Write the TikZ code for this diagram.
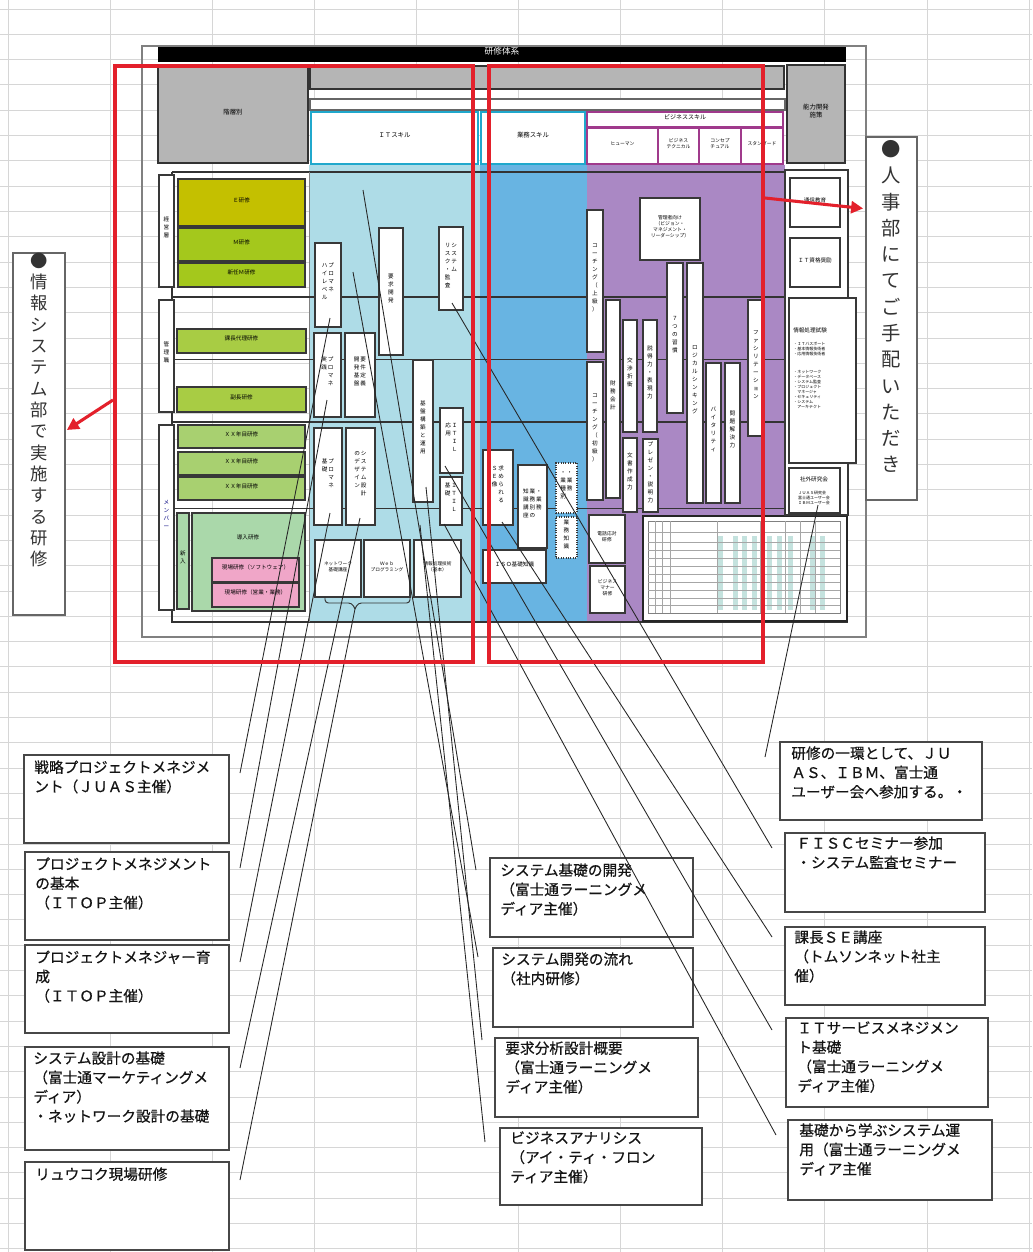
\documentclass[tikz,border=0pt]{standalone}
\usepackage{fontspec}
\setmainfont{Noto Sans CJK JP}
\newfontfamily\cfont{Noto Sans CJK JP}[FakeBold=0.5]
\usetikzlibrary{fit,calc,arrows.meta}
\ExplSyntaxOn
\NewDocumentCommand\vt{m}{
  \seq_clear:N \l_tmpa_seq
  \tl_map_inline:nn {#1}{\seq_put_right:Nn \l_tmpa_seq {##1}}
  \begin{tabular}[t]{@{}c@{}}\seq_use:Nn \l_tmpa_seq {\\}\end{tabular}
}
\ExplSyntaxOff
\newcommand\tinyf{\fontsize{4.2}{6}\selectfont}
\definecolor{itb}{HTML}{AEDCE7}
\definecolor{gyb}{HTML}{68B4E2}
\definecolor{pur}{HTML}{AA88C4}
\definecolor{gry}{HTML}{B5B5B5}
\definecolor{olv}{HTML}{C4C000}
\definecolor{grn}{HTML}{A4C81C}
\definecolor{grn2}{HTML}{A8CC44}
\definecolor{lgr}{HTML}{A8D070}
\definecolor{pgr}{HTML}{AAD8AA}
\definecolor{pnk}{HTML}{F0A6C8}
\definecolor{rd}{HTML}{E3202B}
\definecolor{cyb}{HTML}{20A8CC}
\definecolor{pbd}{HTML}{A03A8C}
\definecolor{tea}{HTML}{C4E2DE}
\tikzset{
 gridline/.style={draw=black!16, line width=0.6pt},
 sepline/.style={draw=black!80},
 wb/.style={inner sep=0pt, draw=black!78, line width=0.8pt, fill=white, align=center, font=\tinyf},
 gb/.style={wb, fill=gry, draw=black!80, line width=1pt, font=\fontsize{4.8}{6}\selectfont},
 hd/.style={wb, draw=cyb, line width=1pt, font=\fontsize{4.8}{6}\selectfont},
 hp/.style={wb, draw=pbd, line width=0.9pt, font=\fontsize{3.6}{4.5}\selectfont},
 cbx/.style={wb, fill=#1},
 dsh/.style={wb, densely dotted, line width=0.9pt},
 cbox/.style={inner sep=0pt, draw=black!72, line width=1.4pt, fill=white},
 ctxt/.style={anchor=north west, inner sep=0pt, align=left, font=\cfont\fontsize{11}{14.5}\selectfont, text=black!92},
 conn/.style={draw=black!85, line width=0.65pt},
 redbox/.style={inner sep=0pt, draw=rd, line width=3pt},
 redarrow/.style={draw=rd, line width=2.3pt, -{Triangle[length=9pt,width=9pt]}},
 notebox/.style={inner sep=0pt, draw=black!60, line width=1.3pt, fill=white},
}
\begin{document}
\begin{tikzpicture}[x=0.75pt,y=-0.75pt]
\path[use as bounding box, fill=white] (0,0) rectangle (1032,1252);
\foreach \k in {0,...,49}{\draw[gridline] (0,{9+25.3*\k}) -- (1032,{9+25.3*\k});}
\foreach \k in {0,...,10}{\draw[gridline] ({8+102.1*\k},0) -- ({8+102.1*\k},1252);}

% ---------- chart ----------
\node[fit={(142,46) (866,637)}, inner sep=0pt, draw=black!50, line width=1pt] (frame) {};
\node[fit={(158,47) (846,62)}, inner sep=0pt, fill=black, text=white, font=\fontsize{6.5}{7}\selectfont] (title) {研修体系};
\node[fit={(158,67) (308,163)}, gb] (kaiso) {階層別};
\node[fit={(310,66) (784,89)}, gb] (topbar) {};
\node[fit={(787,65) (845,163)}, gb] (noryoku) {能力開発\\施策};
\node[fit={(310,99) (785,110)}, wb, draw=black!60] (band) {};
\node[fit={(311,112) (478,164)}, hd] (hit) {ＩＴスキル};
\node[fit={(481,112) (585,164)}, hd] (hgy) {業務スキル};
\node[fit={(587,112) (783,127)}, hp, font=\fontsize{4.5}{5}\selectfont] (hbs) {ビジネススキル};
\node[fit={(587,128) (658,164)}, hp] (h1) {ヒューマン};
\node[fit={(658,128) (699,164)}, hp] (h2) {ビジネス\\テクニカル};
\node[fit={(699,128) (741,164)}, hp] (h3) {コンセプ\\チュアル};
\node[fit={(741,128) (783,164)}, hp] (h4) {スタンダード};

\fill[itb] (309,165) rectangle (480,622);
\fill[gyb] (480,165) rectangle (587,622);
\fill[pur] (587,165) rectangle (785,622);
\draw[black!80, line width=1.1pt] (172,172) -- (848,172);
\draw[black!80, line width=1.4pt] (172,172) -- (172,622) -- (848,622);
\draw[black!50, line width=0.6pt] (309,172) -- (309,622);
\draw[sepline, line width=1.6pt] (172,297) -- (785,297);
\draw[sepline, line width=1.6pt] (172,422) -- (785,422);
\draw[sepline, line width=0.7pt] (175,359) -- (785,359);
\draw[sepline, line width=0.7pt] (175,508) -- (785,508);

% hierarchy
\node[fit={(159,175) (174,287)}, wb] (kei) {\vt{経営層}};
\node[fit={(159,300) (174,412)}, wb] (kan) {\vt{管理職}};
\node[fit={(159,425) (174,610)}, wb, text=blue!50!black] (mem) {\vt{メンバー}};
\node[fit={(178,179) (305,226)}, cbx=olv] (e1) {Ｅ研修};
\node[fit={(178,228) (305,261)}, cbx=grn] (m1) {Ｍ研修};
\node[fit={(178,263) (305,287)}, cbx=grn] (m2) {新任Ｍ研修};
\node[fit={(177,329) (306,353)}, cbx=grn2] (k1) {課長代理研修};
\node[fit={(177,387) (306,412)}, cbx=grn2] (k2) {副長研修};
\node[fit={(178,425) (305,448)}, cbx=lgr] (x1) {ＸＸ年目研修};
\node[fit={(178,452) (305,475)}, cbx=lgr] (x2) {ＸＸ年目研修};
\node[fit={(178,477) (305,500)}, cbx=lgr] (x3) {ＸＸ年目研修};
\node[fit={(177,513) (189,609)}, cbx=pgr] (shin) {\vt{新入}};
\node[fit={(192,513) (305,611)}, cbx=pgr] (dounyu) {};
\node[font=\tinyf, inner sep=0pt] (dounyut) at (248,537) {導入研修};
\node[fit={(212,558) (299,582)}, cbx=pnk] (p1) {現場研修（ソフトウェア）};
\node[fit={(212,583) (299,607)}, cbx=pnk] (p2) {現場研修（営業・業務）};

% IT skill boxes
\node[fit={(315,243) (341,327)}, wb] (pmhl) {\vt{ハイレベル}\,\vt{プロマネ}};
\node[fit={(379,228) (403,355)}, wb] (yokyu) {\vt{要求開発}};
\node[fit={(439,227) (463,310)}, wb] (risk) {\vt{リスク・監査}\,\vt{システム}};
\node[fit={(314,333) (341,417)}, wb] (pmjs) {\vt{実践}\,\vt{プロマネ}};
\node[fit={(345,333) (375,417)}, wb] (gyoumu) {\vt{開発基盤}\,\vt{要件定義}};
\node[fit={(413,360) (433,502)}, wb] (kouchiku) {\vt{基盤構築と運用}};
\node[fit={(440,408) (463,473)}, wb] (itil1) {\vt{応用}\,\vt{ＩＴＩＬ}};
\node[fit={(440,477) (462,525)}, wb] (itil2) {\vt{基礎}\,\vt{ＩＴＩＬ}};
\node[fit={(314,428) (342,525)}, wb] (pmkiso) {\vt{基礎}\,\vt{プロマネ}};
\node[fit={(346,428) (375,525)}, wb] (sysd) {\vt{のデザイン}\,\vt{システム設計}};
\node[fit={(315,540) (361,597)}, wb, font=\fontsize{3.5}{4.5}\selectfont] (nw) {ネットワーク\\基礎講座};
\node[fit={(364,540) (410,597)}, wb, font=\fontsize{3.5}{4.5}\selectfont] (web) {Ｗｅｂ\\プログラミング};
\node[fit={(414,540) (461,597)}, wb, font=\fontsize{3.5}{4.5}\selectfont] (joho) {情報処理技術\\（基本）};
\draw[black!80, line width=0.7pt, rounded corners=2.5pt] (325,597) -- (325,603) -- (352,603) -- (355,609);
\draw[black!80, line width=0.7pt, rounded corners=2.5pt] (410,597) -- (410,603) -- (358,603) -- (355,609);
\coordinate (brt) at (355,609);

% business knowledge
\node[fit={(483,450) (513,525)}, wb] (seizo) {\vt{ＳＥ像}\,\vt{求められる}};
\node[fit={(518,465) (547,548)}, wb] (gyochi) {\vt{知識講座}\,\vt{業務別の}\,\vt{・業務}};
\node[fit={(556,463) (577,513)}, dsh] (dash1) {\vt{・業種別}\,\vt{・業務}};
\node[fit={(556,517) (577,558)}, dsh] (dash2) {\vt{業務知識}};
\node[fit={(483,550) (546,583)}, wb] (iso) {ＩＳＯ基礎知識};

% business skills
\node[fit={(587,210) (603,352)}, wb] (co1) {\vt{コーチング（上級）}};
\node[fit={(587,362) (603,500)}, wb] (co2) {\vt{コーチング（初級）}};
\node[fit={(640,198) (700,260)}, wb, font=\fontsize{3.6}{4.6}\selectfont] (kanri) {管理者向け\\（ビジョン・\\マネジメント・\\リーダーシップ）};
\node[fit={(606,300) (620,498)}, wb] (zaimu) {\vt{財務会計}};
\node[fit={(623,320) (637,432)}, wb] (kosho) {\vt{交渉折衝}};
\node[fit={(623,438) (637,512)}, wb] (bunsho) {\vt{文書作成力}};
\node[fit={(643,320) (657,432)}, wb] (settoku) {\vt{説得力・表現力}};
\node[fit={(643,439) (658,512)}, wb] (pres) {\vt{プレゼン・説明力}};
\node[fit={(667,263) (683,413)}, wb] (seven) {\vt{７つの習慣}};
\node[fit={(687,263) (703,503)}, wb] (logic) {\vt{ロジカルシンキング}};
\node[fit={(706,363) (721,503)}, wb] (vital) {\vt{バイタリティ}};
\node[fit={(725,363) (740,503)}, wb] (mondai) {\vt{問題解決力}};
\node[fit={(748,300) (764,436)}, wb] (facil) {\vt{ファシリテーション}};
\node[fit={(589,515) (625,563)}, wb, font=\fontsize{3.6}{4.6}\selectfont] (denwa) {電話応対\\研修};
\node[fit={(590,566) (625,613)}, wb, font=\fontsize{3.6}{4.6}\selectfont] (manner) {ビジネス\\マナー\\研修};

% table
\node[fit={(643,516) (847,621)}, wb, line width=1.3pt, draw=black!85] (tbl) {};
\foreach \xx in {718,733,742,752,767,777,788,810,820}{\fill[tea] (\xx,536) rectangle ({\xx+5},610);}
\draw[black!50, line width=0.4pt] (648,521) rectangle (840,613);
\foreach \yy in {532,542,550,558,566,574,582,590,598,605}{\draw[black!35, line width=0.3pt] (648,\yy) -- (840,\yy);}
\foreach \xx in {655,662,670,717,760,785,800,815}{\draw[black!35, line width=0.3pt] (\xx,521) -- (\xx,613);}

% right column
\node[fit={(785,170) (848,515)}, wb, line width=1pt] (rcol) {};
\node[fit={(790,178) (840,227)}, wb] (tsu) {通信教育};
\node[fit={(790,238) (840,287)}, wb] (shk) {ＩＴ資格奨励};
\node[fit={(789,298) (856,463)}, wb] (jsk) {};
\node[anchor=north west, inner sep=0pt, font=\tinyf] (jskt) at (793,328) {情報処理試験};
\node[anchor=north west, inner sep=0pt, font=\fontsize{3}{3.8}\selectfont, align=left] (jskt2) at (793,342) {・ＩＴパスポート\\・基本情報技術者\\・応用情報技術者};
\node[anchor=north west, inner sep=0pt, font=\fontsize{3}{3.8}\selectfont, align=left] (jskt3) at (793,370) {・ネットワーク\\・データベース\\・システム監査\\・プロジェクト\\　マネージャ\\・セキュリティ\\・システム\\　アーキテクト};
\node[fit={(789,468) (840,513)}, wb] (shg) {};
\node[inner sep=0pt, font=\tinyf] (shgt) at (814,479) {社外研究会};
\node[inner sep=0pt, font=\fontsize{3}{3.8}\selectfont, align=left] (shgt2) at (814,498) {ＪＵＡＳ研究会\\富士通ユーザー会\\ＩＢＭユーザー会};

% ---------- callouts ----------
\node[fit={(24,755) (229,843)}, cbox] (lb1) {};
\node[ctxt] (lb1t) at ($(lb1.north west)+(11,6)$) {戦略プロジェクトメネジメ\\ント（ＪＵＡＳ主催）};
\node[fit={(25,852) (229,940)}, cbox] (lb2) {};
\node[ctxt] (lb2t) at ($(lb2.north west)+(11,6)$) {プロジェクトメネジメント\\の基本\\（ＩＴＯＰ主催）};
\node[fit={(25,945) (229,1033)}, cbox] (lb3) {};
\node[ctxt] (lb3t) at ($(lb3.north west)+(11,6)$) {プロジェクトメネジャー育\\成\\（ＩＴＯＰ主催）};
\node[fit={(25,1047) (229,1150)}, cbox] (lb4) {};
\node[ctxt] (lb4t) at ($(lb4.north west)+(9,5)$) {システム設計の基礎\\（富士通マーケティングメ\\ディア）\\・ネットワーク設計の基礎};
\node[fit={(25,1162) (229,1250)}, cbox] (lb5) {};
\node[ctxt] (lb5t) at ($(lb5.north west)+(11,6)$) {リュウコク現場研修};

\node[fit={(490,858) (693,937)}, cbox] (mb1) {};
\node[ctxt] (mb1t) at ($(mb1.north west)+(11,6)$) {システム基礎の開発\\（富士通ラーニングメ\\ディア主催）};
\node[fit={(493,948) (693,1027)}, cbox] (mb2) {};
\node[ctxt] (mb2t) at ($(mb2.north west)+(9,5)$) {システム開発の流れ\\（社内研修）};
\node[fit={(495,1038) (698,1117)}, cbox] (mb3) {};
\node[ctxt] (mb3t) at ($(mb3.north west)+(11,4)$) {要求分析設計概要\\（富士通ラーニングメ\\ディア主催）};
\node[fit={(500,1128) (702,1205)}, cbox] (mb4) {};
\node[ctxt] (mb4t) at ($(mb4.north west)+(11,4)$) {ビジネスアナリシス\\（アイ・ティ・フロン\\ティア主催）};

\node[fit={(780,742) (982,820)}, cbox] (rb1) {};
\node[ctxt] (rb1t) at ($(rb1.north west)+(12,5)$) {研修の一環として、ＪＵ\\ＡＳ、ＩＢＭ、富士通\\ユーザー会へ参加する。・};
\node[fit={(785,833) (985,912)}, cbox] (rb2) {};
\node[ctxt] (rb2t) at ($(rb2.north west)+(12,4)$) {ＦＩＳＣセミナー参加\\・システム監査セミナー};
\node[fit={(785,927) (985,1005)}, cbox] (rb3) {};
\node[ctxt] (rb3t) at ($(rb3.north west)+(10,4)$) {課長ＳＥ講座\\（トムソンネット社主\\催）};
\node[fit={(786,1018) (988,1107)}, cbox] (rb4) {};
\node[ctxt] (rb4t) at ($(rb4.north west)+(12,4)$) {ＩＴサービスメネジメン\\ト基礎\\（富士通ラーニングメ\\ディア主催）};
\node[fit={(788,1120) (992,1200)}, cbox] (rb5) {};
\node[ctxt] (rb5t) at ($(rb5.north west)+(12,4)$) {基礎から学ぶシステム運\\用（富士通ラーニングメ\\ディア主催};

% ---------- connectors ----------
\coordinate (e1) at (240,773);
\coordinate (e2) at (240,868);
\coordinate (e3) at (240,962);
\coordinate (e4) at (240,1068);
\coordinate (e5) at (240,1180);
\coordinate (f1) at (476,870);
\coordinate (f2) at (478,957);
\coordinate (f3) at (482,1040);
\coordinate (f4) at (485,1142);
\coordinate (g1) at (765,757);
\coordinate (g2) at (772,848);
\coordinate (g3) at (772,937);
\coordinate (g4) at (772,1030);
\coordinate (g5) at (776,1135);
\coordinate (s1) at (330,318);
\coordinate (s2) at (327,400);
\coordinate (s3) at (330,513);
\coordinate (s4) at (360,518);
\coordinate (t1) at (363,190);
\coordinate (t2) at (353,272);
\coordinate (t3) at (426,487);
\coordinate (t4) at (420,525);
\coordinate (u1) at (818,505);
\coordinate (u2) at (452,303);
\coordinate (u3) at (502,522);
\coordinate (u4) at (445,466);
\coordinate (u5) at (444,524);
\draw[conn] (s1) -- (e1);
\draw[conn] (s2) -- (e2);
\draw[conn] (s3) -- (e3);
\draw[conn] (s4) -- (e4);
\draw[conn] (brt) -- (e5);
\draw[conn] (t1) -- (f1);
\draw[conn] (t2) -- (f2);
\draw[conn] (t3) -- (f3);
\draw[conn] (t4) -- (f4);
\draw[conn] (u1) -- (g1);
\draw[conn] (u2) -- (g2);
\draw[conn] (u3) -- (g3);
\draw[conn] (u4) -- (g4);
\draw[conn] (u5) -- (g5);

% ---------- notes and red marks ----------
\node[fit={(13,253) (65,615)}, notebox] (noteL) {};
\node[anchor=north, inner sep=0pt, font=\fontsize{13}{16}\selectfont, text=black!80] (noteLt) at (39,252) {\vt{●情報システム部で実施する研修}};
\node[fit={(866,137) (917,500)}, notebox] (noteR) {};
\node[anchor=north, inner sep=0pt, font=\fontsize{14.5}{19.7}\selectfont, text=black!80] (noteRt) at (891,138) {\vt{●人事部にてご手配いただき}};

\node[fit={(115,66) (473,662)}, redbox] (redL) {};
\node[fit={(489,66) (763,662)}, redbox] (redR) {};
\draw[redarrow] ($(redL.west)+(0,36)$) -- ($(noteL.east)+(1,-4)$);
\draw[redarrow] ($(redR.east)+(0,-166)$) -- ($(noteR.west)+(-2,-110)$);
\end{tikzpicture}
\end{document}
